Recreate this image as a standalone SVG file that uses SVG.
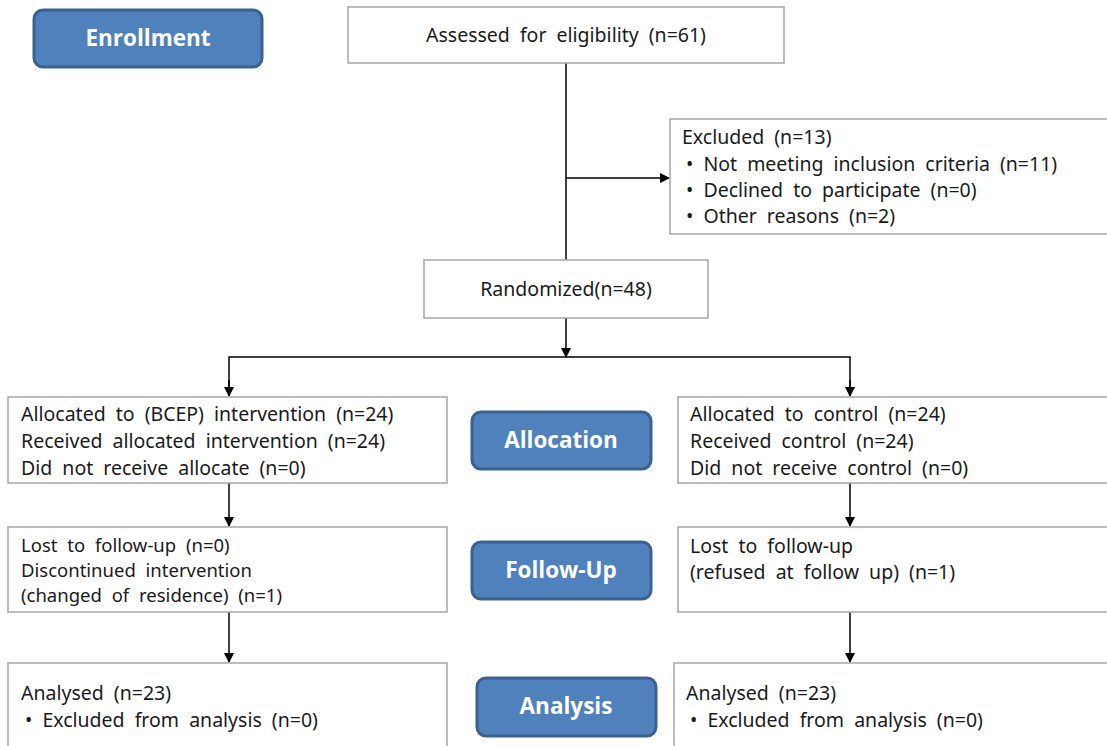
<svg xmlns="http://www.w3.org/2000/svg" width="1107" height="746" viewBox="0 0 1107 746">
<style>
.box{fill:#fff;stroke:#a6a6a6;stroke-width:1.5}
.btn{fill:#4f81bd;stroke:#3a6190;stroke-width:3}
.bt{font-family:"Open Sans","Noto Sans",sans-serif;font-weight:bold;font-size:22.5px;fill:#fff;text-anchor:middle}
.t{font-family:"Noto Sans","Open Sans",sans-serif;font-size:19.5px;fill:#1a1a1a;word-spacing:5px}
.s{font-size:18.5px}
.c{text-anchor:middle}
.ln{stroke:#000;stroke-width:1.5;fill:none}
</style>
<defs>
<marker id="ah" markerWidth="10" markerHeight="10" refX="9" refY="5" orient="auto" markerUnits="userSpaceOnUse">
<path d="M0,0 L10,5 L0,10 z" fill="#000"/>
</marker>
</defs>
<g id="connectors">
<line class="ln" x1="566" y1="63" x2="566" y2="260"/>
<line class="ln" x1="566" y1="178" x2="669" y2="178" marker-end="url(#ah)"/>
<line class="ln" x1="566" y1="318" x2="566" y2="357" marker-end="url(#ah)"/>
<polyline class="ln" points="229,396 229,357 850,357 850,396"/>
<line class="ln" x1="229" y1="380" x2="229" y2="396" marker-end="url(#ah)"/>
<line class="ln" x1="850" y1="380" x2="850" y2="396" marker-end="url(#ah)"/>
<line class="ln" x1="229" y1="483" x2="229" y2="526" marker-end="url(#ah)"/>
<line class="ln" x1="850" y1="483" x2="850" y2="526" marker-end="url(#ah)"/>
<line class="ln" x1="229" y1="612" x2="229" y2="662" marker-end="url(#ah)"/>
<line class="ln" x1="850" y1="612" x2="850" y2="662" marker-end="url(#ah)"/>
</g>
<g id="enrollment">
<rect class="btn" x="34" y="10" width="228" height="57" rx="9"/>
<text class="bt" x="148" y="46">Enrollment</text>
</g>
<g id="assessed">
<rect class="box" x="348" y="7" width="436" height="56"/>
<text class="t c" x="566" y="42">Assessed for eligibility (n=61)</text>
</g>
<g id="excluded">
<rect class="box" x="670" y="119" width="440" height="115"/>
<text class="t" x="682" y="144">Excluded (n=13)</text>
<text class="t" x="686" y="171">• Not meeting inclusion criteria (n=11)</text>
<text class="t" x="686" y="197">• Declined to participate (n=0)</text>
<text class="t" x="686" y="223">• Other reasons (n=2)</text>
</g>
<g id="randomized">
<rect class="box" x="424" y="260" width="284" height="58"/>
<text class="t c" x="566" y="296">Randomized(n=48)</text>
</g>
<g id="alloc-left">
<rect class="box" x="8" y="397" width="439" height="86"/>
<text class="t" x="21" y="421">Allocated to (BCEP) intervention (n=24)</text>
<text class="t" x="21" y="448">Received allocated intervention (n=24)</text>
<text class="t" x="21" y="475">Did not receive allocate (n=0)</text>
</g>
<g id="allocation">
<rect class="btn" x="472" y="412" width="179" height="57" rx="9"/>
<text class="bt" x="561" y="448">Allocation</text>
</g>
<g id="alloc-right">
<rect class="box" x="678" y="397" width="432" height="86"/>
<text class="t" x="690" y="421">Allocated to control (n=24)</text>
<text class="t" x="690" y="448">Received control (n=24)</text>
<text class="t" x="690" y="475">Did not receive control (n=0)</text>
</g>
<g id="follow-left">
<rect class="box" x="8" y="527" width="439" height="85"/>
<text class="t s" x="21" y="552">Lost to follow-up (n=0)</text>
<text class="t s" x="21" y="577">Discontinued intervention</text>
<text class="t s" x="21" y="602">(changed of residence) (n=1)</text>
</g>
<g id="followup">
<rect class="btn" x="472" y="542" width="179" height="57" rx="9"/>
<text class="bt" x="561" y="578">Follow-Up</text>
</g>
<g id="follow-right">
<rect class="box" x="678" y="527" width="432" height="85"/>
<text class="t" x="690" y="553">Lost to follow-up</text>
<text class="t" x="690" y="579">(refused at follow up) (n=1)</text>
</g>
<g id="analysis-left">
<rect class="box" x="8" y="663" width="439" height="100"/>
<text class="t" x="21" y="700">Analysed (n=23)</text>
<text class="t" x="25" y="727">• Excluded from analysis (n=0)</text>
</g>
<g id="analysis">
<rect class="btn" x="477" y="678" width="179" height="58" rx="9"/>
<text class="bt" x="566" y="714">Analysis</text>
</g>
<g id="analysis-right">
<rect class="box" x="674" y="663" width="436" height="100"/>
<text class="t" x="686" y="700">Analysed (n=23)</text>
<text class="t" x="690" y="727">• Excluded from analysis (n=0)</text>
</g>
</svg>
